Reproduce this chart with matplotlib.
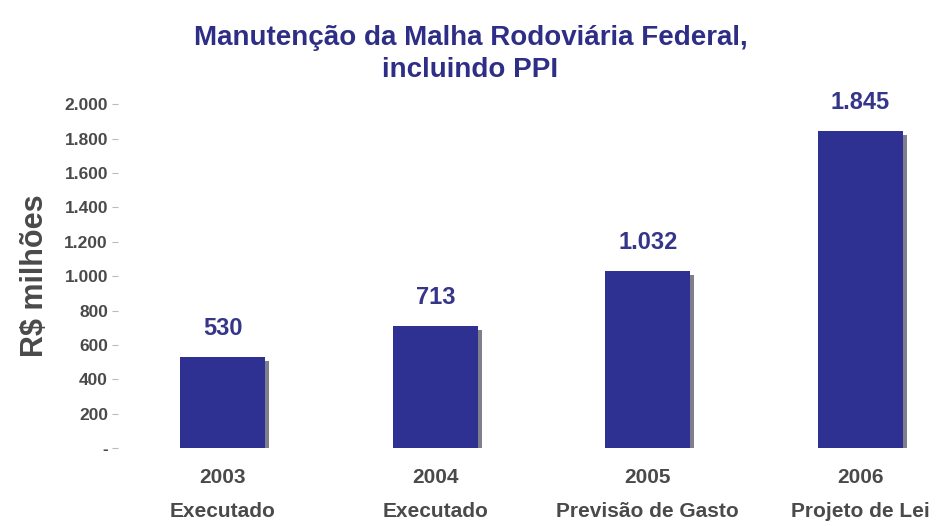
import matplotlib.pyplot as plt
import matplotlib.patheffects as pe
from matplotlib.ticker import FuncFormatter

plt.rcParams['font.family'] = ['Liberation Sans Narrow', 'Liberation Sans', 'DejaVu Sans']

years = ['2003', '2004', '2005', '2006']
status = ['Executado', 'Executado', 'Previsão de Gasto', 'Projeto de Lei']
values = [530, 713, 1032, 1845]
value_labels = ['530', '713', '1.032', '1.845']

navy = '#2e3192'
label_blue = '#35358a'
grey = '#4a4a4a'

fig = plt.figure(figsize=(9.41, 5.26), dpi=100)
ax = fig.add_axes([0.125, 0.148, 0.875, 0.654])

x = list(range(len(values)))
bars = ax.bar(x, values, width=0.4, color=navy, zorder=2)
for b in bars:
    b.set_path_effects([pe.SimplePatchShadow(offset=(3, -3), shadow_rgbFace='#15152e', alpha=0.55),
                        pe.Normal()])

for xi, v, lab in zip(x, values, value_labels):
    ax.annotate(lab, (xi, v), xytext=(0, 12), textcoords='offset points',
                ha='center', va='bottom', fontsize=17, fontweight='bold',
                color=label_blue, annotation_clip=False)

ax.set_xlim(-0.495, 3.38)
ax.set_ylim(0, 2000)
ax.set_yticks(range(0, 2001, 200))
ax.yaxis.set_major_formatter(FuncFormatter(
    lambda v, p: '-' if v == 0 else f'{int(v):,}'.replace(',', '.')))
ax.tick_params(axis='y', length=4, width=0.8, color='#bbbbbb', labelsize=12.5,
               labelcolor=grey, pad=3)
for t in ax.get_yticklabels():
    t.set_fontweight('bold')

ax.set_xticks(x)
ax.set_xticklabels([f'{y}\n{s}' for y, s in zip(years, status)], linespacing=2.0)
ax.tick_params(axis='x', length=0, labelsize=15, labelcolor=grey, pad=14)
for t in ax.get_xticklabels():
    t.set_fontweight('bold')

for s in ax.spines.values():
    s.set_visible(False)

ax.set_ylabel('R$ milhões', fontsize=22, fontweight='bold', color=grey, labelpad=10)

fig.text(0.5, 0.898, 'Manutenção da Malha Rodoviária Federal,\nincluindo PPI',
         ha='center', va='center', fontsize=20, fontweight='bold', color='#2e2e86',
         linespacing=1.3)

fig.savefig('out.png', dpi=100)
plt.close()
